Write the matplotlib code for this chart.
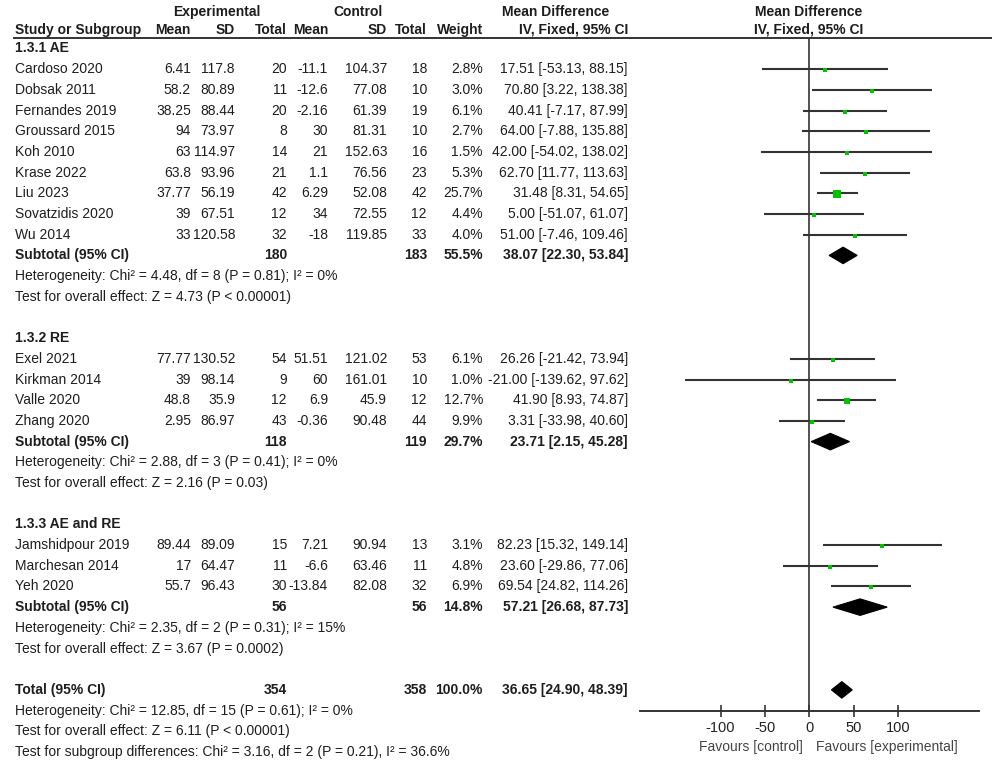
import numpy as np
import matplotlib
matplotlib.use("Agg")
import matplotlib.pyplot as plt
from matplotlib.patches import Polygon
from matplotlib import font_manager

_avail = {f.name for f in font_manager.fontManager.ttflist}
if "Liberation Sans Narrow" in _avail:
    FAMILY, FS = "Liberation Sans Narrow", 11.5
elif "Arial Narrow" in _avail:
    FAMILY, FS = "Arial Narrow", 11.5
else:
    FAMILY, FS = "Liberation Sans", 10.0
plt.rcParams['font.family'] = [FAMILY, 'DejaVu Sans']

# ---------------- data ----------------
groups = ["1.3.1 AE", "1.3.2 RE", "1.3.3 AE and RE"]

studies = [
    ["Cardoso 2020", "Dobsak 2011", "Fernandes 2019", "Groussard 2015", "Koh 2010",
     "Krase 2022", "Liu 2023", "Sovatzidis 2020", "Wu 2014"],
    ["Exel 2021", "Kirkman 2014", "Valle 2020", "Zhang 2020"],
    ["Jamshidpour 2019", "Marchesan 2014", "Yeh 2020"],
]
exp_mean = [[6.41, 58.2, 38.25, 94, 63, 63.8, 37.77, 39, 33],
            [77.77, 39, 48.8, 2.95],
            [89.44, 17, 55.7]]
exp_sd = [[117.8, 80.89, 88.44, 73.97, 114.97, 93.96, 56.19, 67.51, 120.58],
          [130.52, 98.14, 35.9, 86.97],
          [89.09, 64.47, 96.43]]
exp_n = [[20, 11, 20, 8, 14, 21, 42, 12, 32],
         [54, 9, 12, 43],
         [15, 11, 30]]
ctl_mean = [[-11.1, -12.6, -2.16, 30, 21, 1.1, 6.29, 34, -18],
            [51.51, 60, 6.9, -0.36],
            [7.21, -6.6, -13.84]]
ctl_sd = [[104.37, 77.08, 61.39, 81.31, 152.63, 76.56, 52.08, 72.55, 119.85],
          [121.02, 161.01, 45.9, 90.48],
          [90.94, 63.46, 82.08]]
ctl_n = [[18, 10, 19, 10, 16, 23, 42, 12, 33],
         [53, 10, 12, 44],
         [13, 11, 32]]
weight = [[2.8, 3.0, 6.1, 2.7, 1.5, 5.3, 25.7, 4.4, 4.0],
          [6.1, 1.0, 12.7, 9.9],
          [3.1, 4.8, 6.9]]
md = [[17.51, 70.80, 40.41, 64.00, 42.00, 62.70, 31.48, 5.00, 51.00],
      [26.26, -21.00, 41.90, 3.31],
      [82.23, 23.60, 69.54]]
ci_lo = [[-53.13, 3.22, -7.17, -7.88, -54.02, 11.77, 8.31, -51.07, -7.46],
         [-21.42, -139.62, 8.93, -33.98],
         [15.32, -29.86, 24.82]]
ci_hi = [[88.15, 138.38, 87.99, 135.88, 138.02, 113.63, 54.65, 61.07, 109.46],
         [73.94, 97.62, 74.87, 40.60],
         [149.14, 77.06, 114.26]]

sub_exp_n = [180, 118, 56]
sub_ctl_n = [183, 119, 56]
sub_weight = [55.5, 29.7, 14.8]
sub_md = [38.07, 23.71, 57.21]
sub_lo = [22.30, 2.15, 26.68]
sub_hi = [53.84, 45.28, 87.73]
sub_het = ["Heterogeneity: Chi\u00b2 = 4.48, df = 8 (P = 0.81); I\u00b2 = 0%",
           "Heterogeneity: Chi\u00b2 = 2.88, df = 3 (P = 0.41); I\u00b2 = 0%",
           "Heterogeneity: Chi\u00b2 = 2.35, df = 2 (P = 0.31); I\u00b2 = 15%"]
sub_test = ["Test for overall effect: Z = 4.73 (P < 0.00001)",
            "Test for overall effect: Z = 2.16 (P = 0.03)",
            "Test for overall effect: Z = 3.67 (P = 0.0002)"]

tot_exp_n, tot_ctl_n, tot_weight = 354, 358, 100.0
tot_md, tot_lo, tot_hi = 36.65, 24.90, 48.39
tot_lines = ["Heterogeneity: Chi\u00b2 = 12.85, df = 15 (P = 0.61); I\u00b2 = 0%",
             "Test for overall effect: Z = 6.11 (P < 0.00001)",
             "Test for subgroup differences: Chi\u00b2 = 3.16, df = 2 (P = 0.21), I\u00b2 = 36.6%"]

tick_vals = [-100, -50, 0, 50, 100]
fav_left = "Favours [control]"
fav_right = "Favours [experimental]"

# ---------------- layout ----------------
W, H = 996, 767
fig = plt.figure(figsize=(W / 100, H / 100), dpi=100)
bg = fig.add_axes([0, 0, 1, 1])
bg.set_xlim(0, W)
bg.set_ylim(H, 0)
bg.axis("off")

ROW0, ROWH = 48.5, 20.69
def ry(r):
    return ROW0 + ROWH * r

TC = "#1e1e1e"
col_right = [191, 235, 287, 328, 387, 427, 483, 628]
XL = 15

def put(x, y, s, ha="left", bold=False, color=TC, fs=None):
    bg.text(x, y, s, ha=ha, va="center", fontsize=FS if fs is None else fs, color=color,
            fontweight="bold" if bold else "normal")

# headers
put(217, 12, "Experimental", ha="center", bold=True)
put(358, 12, "Control", ha="center", bold=True)
put(556, 12, "Mean Difference", ha="center", bold=True)
put(809, 12, "Mean Difference", ha="center", bold=True)
hdr = ["Mean", "SD", "Total", "Mean", "SD", "Total", "Weight", "IV, Fixed, 95% CI"]
put(XL, 30, "Study or Subgroup", bold=True)
for x, s in zip(col_right, hdr):
    put(x, 30, s, ha="right", bold=True)
put(809, 30, "IV, Fixed, 95% CI", ha="center", bold=True)
bg.plot([13, 992], [38, 38], color="#333333", lw=1.4, solid_capstyle="butt")

# forest axes
zero_px, ppu = 809.3, 0.888
ax_l, ax_r = 640, 979
ax_top, ax_bot = 37.5, 711
ax = fig.add_axes([ax_l / W, 1 - ax_bot / H, (ax_r - ax_l) / W, (ax_bot - ax_top) / H])
ax.set_xlim((ax_l - zero_px) / ppu, (ax_r - zero_px) / ppu)
ax.set_ylim((ax_bot - ROW0) / ROWH, (ax_top - ROW0) / ROWH)
ax.patch.set_alpha(0)
for sp in ["top", "right", "left"]:
    ax.spines[sp].set_visible(False)
ax.spines["bottom"].set_color("#333333")
ax.spines["bottom"].set_linewidth(1.4)
ax.set_yticks([])
ax.set_xticks(tick_vals)
ax.set_xticklabels([str(v) for v in tick_vals])
ax.tick_params(axis="x", direction="inout", length=9, width=1.2, color="#333333",
               labelsize=FS + 0.5, labelcolor="#222222", pad=3)
ax.axvline(0, color="#333333", lw=1.2, zorder=1)

GREEN = "#00c400"
DH = 0.40

def diamond(r, lo, mid, hi):
    ax.add_patch(Polygon([[lo, r], [mid, r - DH], [hi, r], [mid, r + DH]],
                         closed=True, facecolor="black", edgecolor="black", lw=0.8, zorder=4))

r = 0
for g in range(3):
    put(XL, ry(r), groups[g], bold=True)
    r += 1
    for i, name in enumerate(studies[g]):
        y = ry(r)
        put(XL, y, name)
        vals = [f"{exp_mean[g][i]:g}", f"{exp_sd[g][i]:g}", f"{exp_n[g][i]}",
                f"{ctl_mean[g][i]:g}", f"{ctl_sd[g][i]:g}", f"{ctl_n[g][i]}",
                f"{weight[g][i]:.1f}%",
                f"{md[g][i]:.2f} [{ci_lo[g][i]:.2f}, {ci_hi[g][i]:.2f}]"]
        for x, s in zip(col_right, vals):
            put(x, y, s, ha="right")
        ax.plot([ci_lo[g][i], ci_hi[g][i]], [r, r], color="#333333", lw=1.5, zorder=2,
                solid_capstyle="butt")
        side = max(3.3, 1.5 * np.sqrt(weight[g][i]))
        ax.plot(md[g][i], r + 0.05, marker="s", ms=side * 0.72, color=GREEN,
                mec=GREEN, mew=0, zorder=3)
        r += 1
    y = ry(r)
    put(XL, y, "Subtotal (95% CI)", bold=True)
    put(col_right[2], y, f"{sub_exp_n[g]}", ha="right", bold=True)
    put(col_right[5], y, f"{sub_ctl_n[g]}", ha="right", bold=True)
    put(col_right[6], y, f"{sub_weight[g]:.1f}%", ha="right", bold=True)
    put(col_right[7], y, f"{sub_md[g]:.2f} [{sub_lo[g]:.2f}, {sub_hi[g]:.2f}]", ha="right", bold=True)
    diamond(r, sub_lo[g], sub_md[g], sub_hi[g])
    r += 1
    put(XL, ry(r), sub_het[g]); r += 1
    put(XL, ry(r), sub_test[g]); r += 1
    r += 1

y = ry(r)
put(XL, y, "Total (95% CI)", bold=True)
put(col_right[2], y, f"{tot_exp_n}", ha="right", bold=True)
put(col_right[5], y, f"{tot_ctl_n}", ha="right", bold=True)
put(col_right[6], y, f"{tot_weight:.1f}%", ha="right", bold=True)
put(col_right[7], y, f"{tot_md:.2f} [{tot_lo:.2f}, {tot_hi:.2f}]", ha="right", bold=True)
diamond(r, tot_lo, tot_md, tot_hi)
r += 1
for s in tot_lines:
    put(XL, ry(r), s); r += 1

put(zero_px - 6, 747, fav_left, ha="right", color="#444444")
put(zero_px + 7, 747, fav_right, ha="left", color="#444444")

fig.savefig("out.png", dpi=100, facecolor="white")
